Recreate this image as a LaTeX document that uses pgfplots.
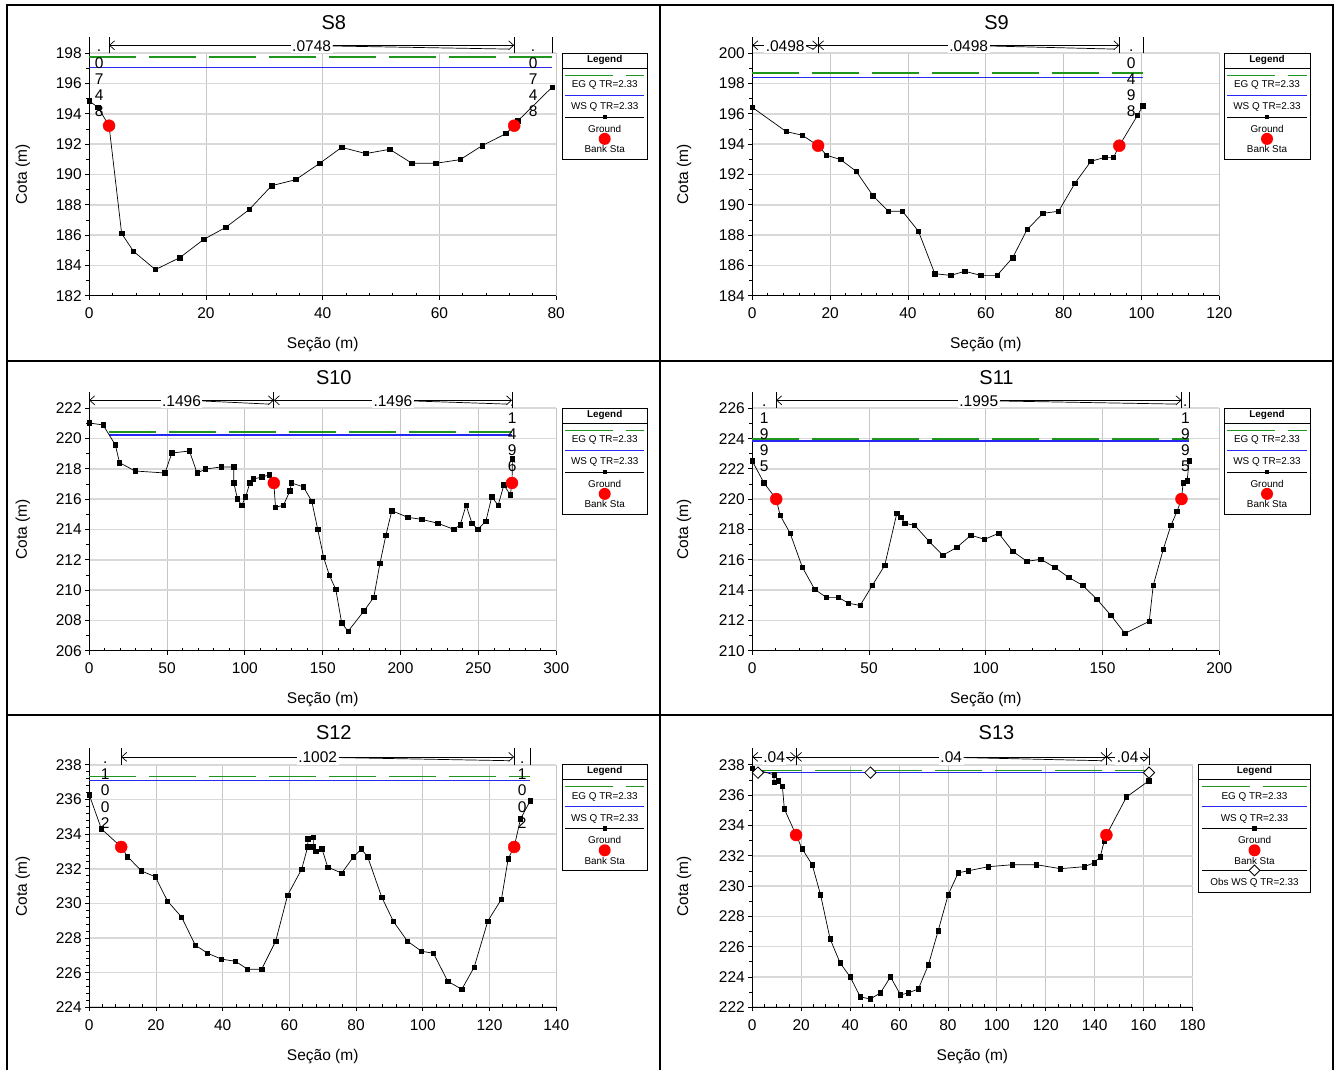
\documentclass[border=0pt]{standalone}
\usepackage{fontspec}
\setmainfont{Liberation Sans}
\usepackage{pgfplots}
\pgfplotsset{compat=1.18}
\usetikzlibrary{arrows.meta}

\definecolor{egreen}{RGB}{30,150,30}
\definecolor{wsblue}{RGB}{40,40,245}

\newcommand{\ticfont}{\fontsize{15.5}{18}\selectfont}
\newcommand{\titfont}{\fontsize{20}{24}\selectfont}
\newcommand{\nfont}{\fontsize{15.5}{16.2}\selectfont}
\newcommand{\legfont}{\fontsize{9.9}{12}\selectfont}

\pgfplotsset{
  hec/.style={
    scale only axis, height=242.4pt, anchor=south west,
    axis x line*=bottom, axis y line*=left,
    axis line style={-, line width=0.9pt},
    tick align=outside, major tick length=4pt, minor tick length=3pt,
    minor x tick num=4, minor y tick num=1,
    minor x tick style={yshift=3pt},
    tick style={black, line width=0.8pt},
    grid=major,
    major x grid style={gray!45, line width=0.8pt},
    major y grid style={gray!30, line width=1.6pt},
    ticklabel style={font=\ticfont},
    xticklabel style={yshift=-4.5pt},
    /pgf/number format/assume math mode=true,
    xlabel={Seção (m)}, ylabel={Cota (m)},
    label style={font=\ticfont},
    xlabel style={at={(axis description cs:0.5,-0.203)}, anchor=center},
    ylabel style={anchor=center},
    title style={font=\titfont, anchor=center},
    clip=false,
  },
  eg/.style={color=egreen, line width=1.6pt, dash pattern=on 47pt off 13pt},
  ws/.style={color=wsblue, line width=1.2pt},
  gr/.style={black, line width=0.7pt, mark=square*, mark size=2.2pt},
  bank/.style={only marks, red, mark=*, mark size=6pt},
  obs/.style={only marks, black, mark=square*, mark size=4pt,
    mark options={rotate=45, draw=black, fill=white, line width=0.8pt}},
}

% vertical bar above the plot at a roughness boundary
\newcommand{\nbar}[2]{\draw[line width=0.8pt] (axis cs:#1,#2) -- ([yshift=16.5pt]axis cs:#1,#2);}
% roughness region: x1, x2, mid, ytop, label
\newcommand{\nreg}[5]{%
  \draw[line width=0.7pt,{Straight Barb[length=5pt,width=9pt]}-{Straight Barb[length=5pt,width=9pt]}]
    ([yshift=8pt]axis cs:#1,#4) -- ([yshift=8pt]axis cs:#2,#4);
  \node[fill=white,inner sep=1.5pt,font=\nfont] (nl) at ([yshift=7.3pt]axis cs:#3,#4) {#5};
  \draw[line width=0.7pt] (nl.east) -- ([xshift=-5pt,yshift=4.2pt]axis cs:#2,#4);
}
% narrow region: label written downwards
\newcommand{\nstack}[3]{%
  \node[anchor=north,inner sep=0pt,font=\nfont] at ([yshift=13pt]axis cs:#1,#2)
    {\begin{tabular}{@{}c@{}}#3\end{tabular}};
}
% HEC-RAS style legend box: left, top, width, height, obs
\newcommand{\hleg}[5]{%
\begin{scope}[x=1pt,y=1pt,shift={(#1,#2)}]
  \draw[line width=0.8pt] (0,0) rectangle (#3,-#4);
  \node[font=\legfont\bfseries] at (#3/2,-6.7) {Legend};
  \draw[line width=0.7pt] (0,-14.8) -- (#3,-14.8);
  \draw[egreen,line width=1.4pt,dash pattern=on 48pt off 13pt] (3,-22) -- (#3-3,-22);
  \node[font=\legfont] at (#3/2,-32) {EG Q TR=2.33};
  \draw[wsblue,line width=1.2pt] (3,-42.2) -- (#3-3,-42.2);
  \node[font=\legfont] at (#3/2,-54) {WS Q TR=2.33};
  \draw[line width=0.7pt] (3,-63.8) -- (#3-3,-63.8);
  \fill (#3/2-2.2,-66) rectangle ++(4.4,4.4);
  \node[font=\legfont] at (#3/2,-75.7) {Ground};
  \fill[red] (#3/2,-85.6) circle (6);
  \node[font=\legfont] at (#3/2,-96) {Bank Sta};
  #5
\end{scope}}
\newcommand{\obsleg}[1]{%
  \draw[line width=0.7pt] (3,-105.7) -- (#1-3,-105.7);
  \draw[line width=0.8pt,fill=white] (#1/2,-100.3) -- (#1/2+5.4,-105.7) -- (#1/2,-111.1) -- (#1/2-5.4,-105.7) -- cycle;
  \node[font=\legfont] at (#1/2,-117.7) {Obs WS Q TR=2.33};
}

\begin{document}
\begin{tikzpicture}
\useasboundingbox (0,0) rectangle (1341pt,1070pt);
\fill[white] (0,0) rectangle (1341pt,1070pt);

\begin{scope}[x=1pt,y=1pt,line width=2pt]
  \draw (7.3,0) -- (7.3,1065) -- (1332.7,1065) -- (1332.7,0);
  \draw (660.3,0) -- (660.3,1065);
  \draw (7.3,709.3) -- (1332.7,709.3);
  \draw (7.3,354.5) -- (1332.7,354.5);
\end{scope}

% ---------------- S8
\begin{axis}[hec, at={(89.2pt,774.3pt)}, width=467pt,
  xmin=0, xmax=80, ymin=182, ymax=198,
  xtick={0,20,...,80}, ytick={182,184,...,198},
  title={S8}, title style={at={(axis description cs:0.5238,1.103)}},
  ylabel style={at={(axis description cs:-0.1418,0.5)}}]
\addplot[eg] coordinates {(0,197.74) (79.3,197.74)};
\addplot[ws] coordinates {(0,197.05) (79.3,197.05)};
\addplot[gr] coordinates {
(0,194.85) (1.5,194.43) (3.4,193.22) (5.56,186.10) (7.58,184.93) (11.34,183.72)
(15.52,184.51) (19.64,185.72) (23.4,186.51) (27.4,187.68) (31.26,189.26)
(35.38,189.66) (39.5,190.74) (43.25,191.79) (47.37,191.38) (51.48,191.66)
(55.3,190.74) (59.4,190.74) (63.55,190.98) (67.3,191.9) (71.4,192.7)
(72.8,193.22) (73.4,193.53) (79.3,195.76)};
\addplot[bank] coordinates {(3.4,193.22) (72.8,193.22)};
\nbar{0}{198}\nbar{3.4}{198}\nbar{72.8}{198}\nbar{79.3}{198}
\nreg{3.4}{72.8}{38.1}{198}{.0748}
\nstack{1.7}{198}{.\\0\\7\\4\\8}
\nstack{76.05}{198}{.\\0\\7\\4\\8}
\end{axis}

% ---------------- S9
\begin{axis}[hec, at={(752.3pt,774.3pt)}, width=467pt,
  xmin=0, xmax=120, ymin=184, ymax=200,
  xtick={0,20,...,120}, ytick={184,186,...,200},
  title={S9}, title style={at={(axis description cs:0.5229,1.103)}},
  ylabel style={at={(axis description cs:-0.146,0.5)}}]
\addplot[eg] coordinates {(0,198.68) (100.4,198.68)};
\addplot[ws] coordinates {(0,198.42) (100.4,198.42)};
\addplot[gr] coordinates {
(0,196.43) (8.72,194.83) (12.86,194.59) (16.9,193.90) (19.1,193.27) (22.7,192.98)
(26.7,192.21) (31.0,190.60) (35.0,189.57) (38.6,189.57) (42.7,188.25) (46.9,185.45)
(51.0,185.34) (54.6,185.61) (58.7,185.34) (62.9,185.34) (66.9,186.51) (70.6,188.36)
(74.7,189.44) (78.7,189.57) (82.9,191.42) (87.0,192.87) (90.6,193.13) (92.8,193.13)
(94.3,193.90) (99.0,195.91) (100.4,196.54)};
\addplot[bank] coordinates {(16.9,193.90) (94.3,193.90)};
\nbar{0}{200}\nbar{16.9}{200}\nbar{94.3}{200}\nbar{100.4}{200}
\nreg{0}{16.9}{8.45}{200}{.0498}
\nreg{16.9}{94.3}{55.6}{200}{.0498}
\nstack{97.35}{200}{.\\0\\4\\9\\8}
\end{axis}

% ---------------- S10
\begin{axis}[hec, at={(89.2pt,419.3pt)}, width=467pt,
  xmin=0, xmax=300, ymin=206, ymax=222,
  xtick={0,50,...,300}, ytick={206,208,...,222},
  title={S10}, title style={at={(axis description cs:0.5238,1.103)}},
  ylabel style={at={(axis description cs:-0.1418,0.5)}}]
\addplot[eg] coordinates {(12.5,220.42) (271.9,220.42)};
\addplot[ws] coordinates {(12.5,220.24) (271.9,220.24)};
\addplot[gr] coordinates {
(0,221.03) (8.9,220.90) (16.8,219.58) (19.5,218.41) (29.5,217.86) (48.7,217.73)
(53.1,219.05) (64.4,219.18) (69.3,217.73) (74.7,217.99) (85.0,218.13) (92.9,218.13)
(92.9,217.07) (95.3,216.01) (98.0,215.60) (100.5,216.15) (103.2,217.07) (105.6,217.33)
(111.0,217.47) (115.9,217.60) (118.6,217.07) (119.7,215.46) (124.8,215.60) (128.9,216.54)
(130.0,217.07) (137.6,216.81) (143.0,215.86) (146.8,214.01) (150.6,212.16) (154.3,210.97)
(158.4,210.05) (162.2,207.83) (166.3,207.28) (176.5,208.62) (182.8,209.52) (186.8,211.77)
(190.6,213.62) (194.4,215.24) (204.7,214.80) (213.6,214.67) (224.0,214.41) (234.2,214.01)
(238.3,214.30) (242.1,215.60) (245.9,214.41) (249.7,214.01) (254.8,214.54) (258.6,216.15)
(262.7,215.60) (266.4,216.94) (270.5,216.28) (271.6,217.07) (271.9,218.66)};
\addplot[bank] coordinates {(118.6,217.07) (271.6,217.07)};
\nbar{0}{222}\nbar{118.6}{222}\nbar{271.6}{222}
\nreg{0}{118.6}{59.3}{222}{.1496}
\nreg{118.6}{271.6}{195.1}{222}{.1496}
\nstack{271.75}{222}{.\\1\\4\\9\\6}
\end{axis}

% ---------------- S11
\begin{axis}[hec, at={(752.3pt,419.3pt)}, width=467pt,
  xmin=0, xmax=200, ymin=210, ymax=226,
  xtick={0,50,...,200}, ytick={210,212,...,226},
  title={S11}, title style={at={(axis description cs:0.5229,1.103)}},
  ylabel style={at={(axis description cs:-0.146,0.5)}}]
\addplot[eg] coordinates {(0,223.98) (187.1,223.98)};
\addplot[ws] coordinates {(0,223.84) (187.1,223.84)};
\addplot[gr] coordinates {
(0,222.52) (5.0,221.07) (10.25,220.01) (11.9,218.94) (16.2,217.75) (21.4,215.52)
(26.7,214.05) (31.7,213.52) (36.9,213.52) (41.2,213.13) (46.2,212.99) (51.4,214.31)
(56.7,215.63) (61.9,219.07) (63.6,218.80) (65.4,218.41) (69.5,218.28) (75.7,217.22)
(81.6,216.30) (87.6,216.82) (93.6,217.62) (99.5,217.35) (105.5,217.75) (111.5,216.56)
(117.6,215.90) (123.6,216.03) (129.5,215.50) (135.5,214.84) (141.5,214.31) (147.6,213.39)
(153.6,212.33) (159.6,211.14) (170.0,211.94) (171.7,214.31) (176.0,216.69) (179.3,218.28)
(181.9,219.20) (183.8,220.01) (184.5,221.07) (186.2,221.20) (187.1,222.52)};
\addplot[bank] coordinates {(10.25,220.01) (183.8,220.01)};
\nbar{0}{226}\nbar{10.25}{226}\nbar{183.8}{226}\nbar{187.1}{226}
\nreg{10.25}{183.8}{97.0}{226}{.1995}
\nstack{5.1}{226}{.\\1\\9\\9\\5}
\nstack{185.45}{226}{.\\1\\9\\9\\5}
\end{axis}

% ---------------- S12
\begin{axis}[hec, at={(89.2pt,62.7pt)}, width=467pt,
  xmin=0, xmax=140, ymin=224, ymax=238, minor y tick num=4,
  xtick={0,20,...,140}, ytick={224,226,...,238},
  title={S12}, title style={at={(axis description cs:0.5238,1.107)}},
  ylabel style={at={(axis description cs:-0.1418,0.5)}}]
\addplot[eg] coordinates {(0,237.33) (132.2,237.33)};
\addplot[ws] coordinates {(0,237.09) (132.2,237.09)};
\addplot[gr] coordinates {
(0,236.28) (3.66,234.30) (9.6,233.26) (11.5,232.70) (15.7,231.87) (19.8,231.54)
(23.5,230.13) (27.7,229.21) (31.8,227.59) (35.5,227.12) (39.7,226.78) (43.8,226.66)
(47.5,226.20) (51.7,226.20) (55.9,227.82) (59.5,230.48) (63.7,231.98) (65.5,233.26)
(65.6,233.72) (67.2,233.83) (67.2,233.26) (68.0,233.02) (69.8,233.14) (71.5,232.10)
(75.7,231.75) (79.2,232.68) (81.6,233.14) (83.5,232.68) (87.7,230.36) (91.2,228.96)
(95.4,227.82) (99.6,227.24) (103.2,227.12) (107.5,225.50) (111.7,225.04) (115.4,226.31)
(119.5,228.98) (123.6,230.25) (125.6,232.58) (127.4,233.26) (129.3,234.88) (132.2,235.92)};
\addplot[bank] coordinates {(9.6,233.26) (127.4,233.26)};
\nbar{0}{238}\nbar{9.6}{238}\nbar{127.4}{238}\nbar{132.2}{238}
\nreg{9.6}{127.4}{68.5}{238}{.1002}
\nstack{4.8}{238}{.\\1\\0\\0\\2}
\nstack{129.8}{238}{.\\1\\0\\0\\2}
\end{axis}

% ---------------- S13
\begin{axis}[hec, at={(752.3pt,62.7pt)}, width=440.2pt,
  xmin=0, xmax=180, ymin=222, ymax=238, minor x tick num=3,
  xtick={0,20,...,180}, ytick={222,224,...,238},
  title={S13}, title style={at={(axis description cs:0.5547,1.107)}},
  ylabel style={at={(axis description cs:-0.155,0.5)}}]
\addplot[eg] coordinates {(1,237.63) (162.2,237.63)};
\addplot[ws] coordinates {(1,237.49) (162.2,237.49)};
\addplot[gr] coordinates {
(0,237.78) (8.9,237.34) (8.9,236.85) (10.7,236.96) (12.3,236.59) (13.1,235.09)
(17.9,233.37) (20.4,232.45) (24.5,231.41) (27.9,229.43) (31.8,226.52) (35.9,224.93)
(40.0,224.01) (44.2,222.68) (48.3,222.55) (52.4,222.95) (56.5,224.01) (60.6,222.82)
(63.8,222.95) (67.9,223.21) (72.0,224.80) (76.0,227.05) (80.1,229.43) (84.2,230.88)
(88.3,231.01) (96.5,231.28) (106.3,231.41) (116.2,231.41) (126.0,231.15) (135.7,231.28)
(139.8,231.54) (142.3,231.94) (143.9,232.98) (144.8,233.37) (153.0,235.88) (162.2,236.96)};
\addplot[bank] coordinates {(17.9,233.37) (144.8,233.37)};
\addplot[obs] coordinates {(2.3,237.49) (48.3,237.49) (162.2,237.49)};
\nbar{0}{238}\nbar{17.9}{238}\nbar{144.8}{238}\nbar{162.2}{238}
\nreg{0}{17.9}{8.95}{238}{.04}
\nreg{17.9}{144.8}{81.35}{238}{.04}
\nreg{144.8}{162.2}{153.5}{238}{.04}
\end{axis}

% legends
\hleg{562}{1016.7}{85.4}{106}{}
\hleg{1224}{1016.7}{86}{106}{}
\hleg{562}{661.7}{85.4}{106}{}
\hleg{1224}{661.7}{86}{106}{}
\hleg{562}{305.3}{85.4}{106}{}
\hleg{1198.7}{305.3}{111.6}{127.7}{\obsleg{111.6}}
\end{tikzpicture}
\end{document}
